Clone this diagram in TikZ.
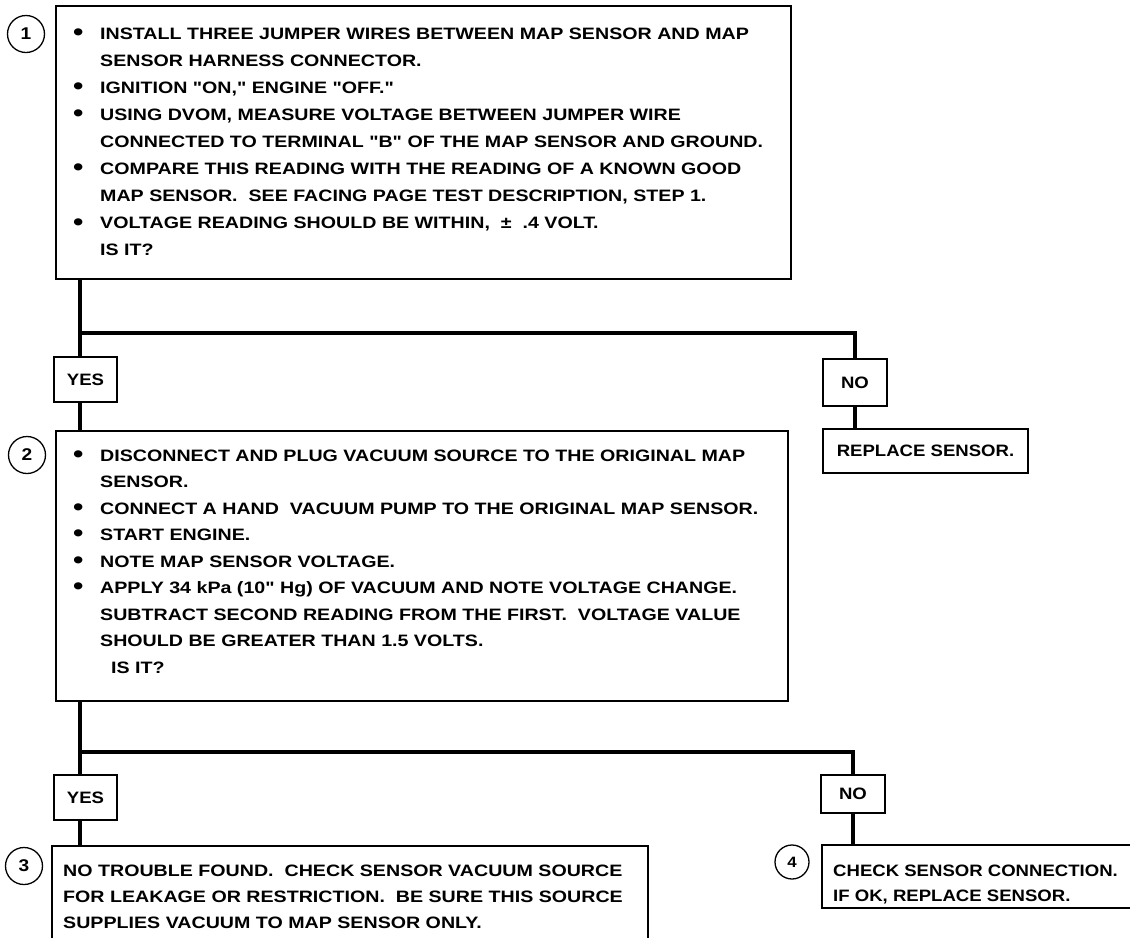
\documentclass[tikz,border=0pt]{standalone}
\usepackage{fontspec}
\usepackage{graphicx}
\setmainfont{Liberation Sans}
\newfontfamily\df{Liberation Sans}[FakeStretch=1.19]
\newfontfamily\dn{Liberation Sans}[FakeStretch=1.125]
\newcommand\bul{\makebox[28pt][l]{\hspace{1pt}\raisebox{-1.4pt}{\scalebox{1.5}{\textbullet}}}}
\newcommand\ind{\hspace*{28pt}}
\begin{document}
\begin{tikzpicture}[x=1pt,y=-1pt,
  frame/.style={line width=1.6pt},
  trunk/.style={line width=4.6pt},
  hline/.style={line width=4.2pt},
  txt/.style={anchor=base west, inner sep=0pt},
  circ/.style={draw, circle, line width=1.3pt, minimum size=37pt, inner sep=0pt, font=\dn\bfseries\fontsize{17}{17}\selectfont},
  lbl/.style={draw, line width=1.5pt, inner sep=0pt, font=\dn\bfseries\fontsize{16.5}{18}\selectfont}
]
\useasboundingbox[fill=white] (0,0) rectangle (1130,938);

% ---------- box 1
\node[draw, frame, anchor=north west, minimum width=735pt, minimum height=273pt, inner sep=0pt] (b1) at (55,5) {};
\node[circ] (c1) at (26,34) {1};
\node[txt] (t1) at (72,39) {\parbox[t]{715pt}{\df\bfseries\fontsize{16.5}{27.1}\selectfont\raggedright
\bul INSTALL THREE JUMPER WIRES BETWEEN MAP SENSOR AND MAP\\
\ind SENSOR HARNESS CONNECTOR.\\
\bul IGNITION "ON," ENGINE "OFF."\\
\bul USING DVOM, MEASURE VOLTAGE BETWEEN JUMPER WIRE\\
\ind CONNECTED TO TERMINAL "B" OF THE MAP SENSOR AND GROUND.\\
\bul COMPARE THIS READING WITH THE READING OF A KNOWN GOOD\\
\ind MAP SENSOR.\ \ SEE FACING PAGE TEST DESCRIPTION, STEP 1.\\
\bul VOLTAGE READING SHOULD BE WITHIN, \ ± \ .4 VOLT.\\
\ind IS IT?}};

% ---------- decision 1
\coordinate (j1) at (80,333);
\node[lbl, minimum width=63pt, minimum height=45pt] (yes1) at (85.5,379.5) {YES};
\node[lbl, minimum width=64pt, minimum height=47pt] (no1) at (855,382.5) {NO};
\node[lbl, minimum width=205pt, minimum height=44pt] (rs) at (925.5,451) {REPLACE SENSOR.};
\draw[trunk] (b1.south -| j1) -- (j1 |- yes1.north);
\draw[hline] (j1) -| (no1.north);
\draw[trunk] (no1.south) -- (no1.south |- rs.north);

% ---------- box 2
\node[draw, frame, anchor=north west, minimum width=732pt, minimum height=270pt, inner sep=0pt] (b2) at (55,430) {};
\draw[trunk] (yes1.south -| j1) -- (b2.north -| j1);
\node[circ] (c2) at (27,455) {2};
\node[txt] (t2) at (72,461) {\parbox[t]{715pt}{\df\bfseries\fontsize{16.5}{26.5}\selectfont\raggedright
\bul DISCONNECT AND PLUG VACUUM SOURCE TO THE ORIGINAL MAP\\
\ind SENSOR.\\
\bul CONNECT A HAND \ VACUUM PUMP TO THE ORIGINAL MAP SENSOR.\\
\bul START ENGINE.\\
\bul NOTE MAP SENSOR VOLTAGE.\\
\bul APPLY 34 kPa (10" Hg) OF VACUUM AND NOTE VOLTAGE CHANGE.\\
\ind SUBTRACT SECOND READING FROM THE FIRST.\ \ VOLTAGE VALUE\\
\ind SHOULD BE GREATER THAN 1.5 VOLTS.\\
\ind\ \ IS IT?}};

% ---------- decision 2
\coordinate (j2) at (80,752);
\node[lbl, minimum width=63pt, minimum height=45pt] (yes2) at (85.5,797.5) {YES};
\node[lbl, minimum width=64pt, minimum height=38pt] (no2) at (853,794) {NO};
\draw[trunk] (b2.south -| j2) -- (j2 |- yes2.north);
\draw[hline] (j2) -| (no2.north);

% ---------- box 3 (cut off at the bottom)
\coordinate (b3nw) at (52,846);
\coordinate (b3ne) at (648,846);
\draw[frame] (b3nw |- 0,938) -- (b3nw) -- (b3ne) -- (b3ne |- 0,938);
\draw[trunk] (yes2.south -| j2) -- (b3nw -| j2);
\node[circ] (c3) at (24,866) {3};
\node[txt] (t3) at (63,876) {\parbox[t]{600pt}{\df\bfseries\fontsize{16.5}{26}\selectfont\raggedright
NO TROUBLE FOUND.\ \ CHECK SENSOR VACUUM SOURCE\\
FOR LEAKAGE OR RESTRICTION.\ \ BE SURE THIS SOURCE\\
SUPPLIES VACUUM TO MAP SENSOR ONLY.}};

% ---------- box 4 (cut off at the right)
\coordinate (b4nw) at (822,845);
\coordinate (b4sw) at (822,908);
\draw[frame] (1130,845) -- (b4nw) -- (b4sw) -- (1130,908);
\draw[trunk] (no2.south) -- (no2.south |- b4nw);
\node[circ, minimum size=34pt, font=\dn\bfseries\fontsize{15}{15}\selectfont] (c4) at (792,862) {4};
\node[txt] (t4) at (833,876) {\parbox[t]{300pt}{\dn\bfseries\fontsize{16.5}{25}\selectfont\raggedright
CHECK SENSOR CONNECTION.\\
IF OK, REPLACE SENSOR.}};
\end{tikzpicture}
\end{document}
